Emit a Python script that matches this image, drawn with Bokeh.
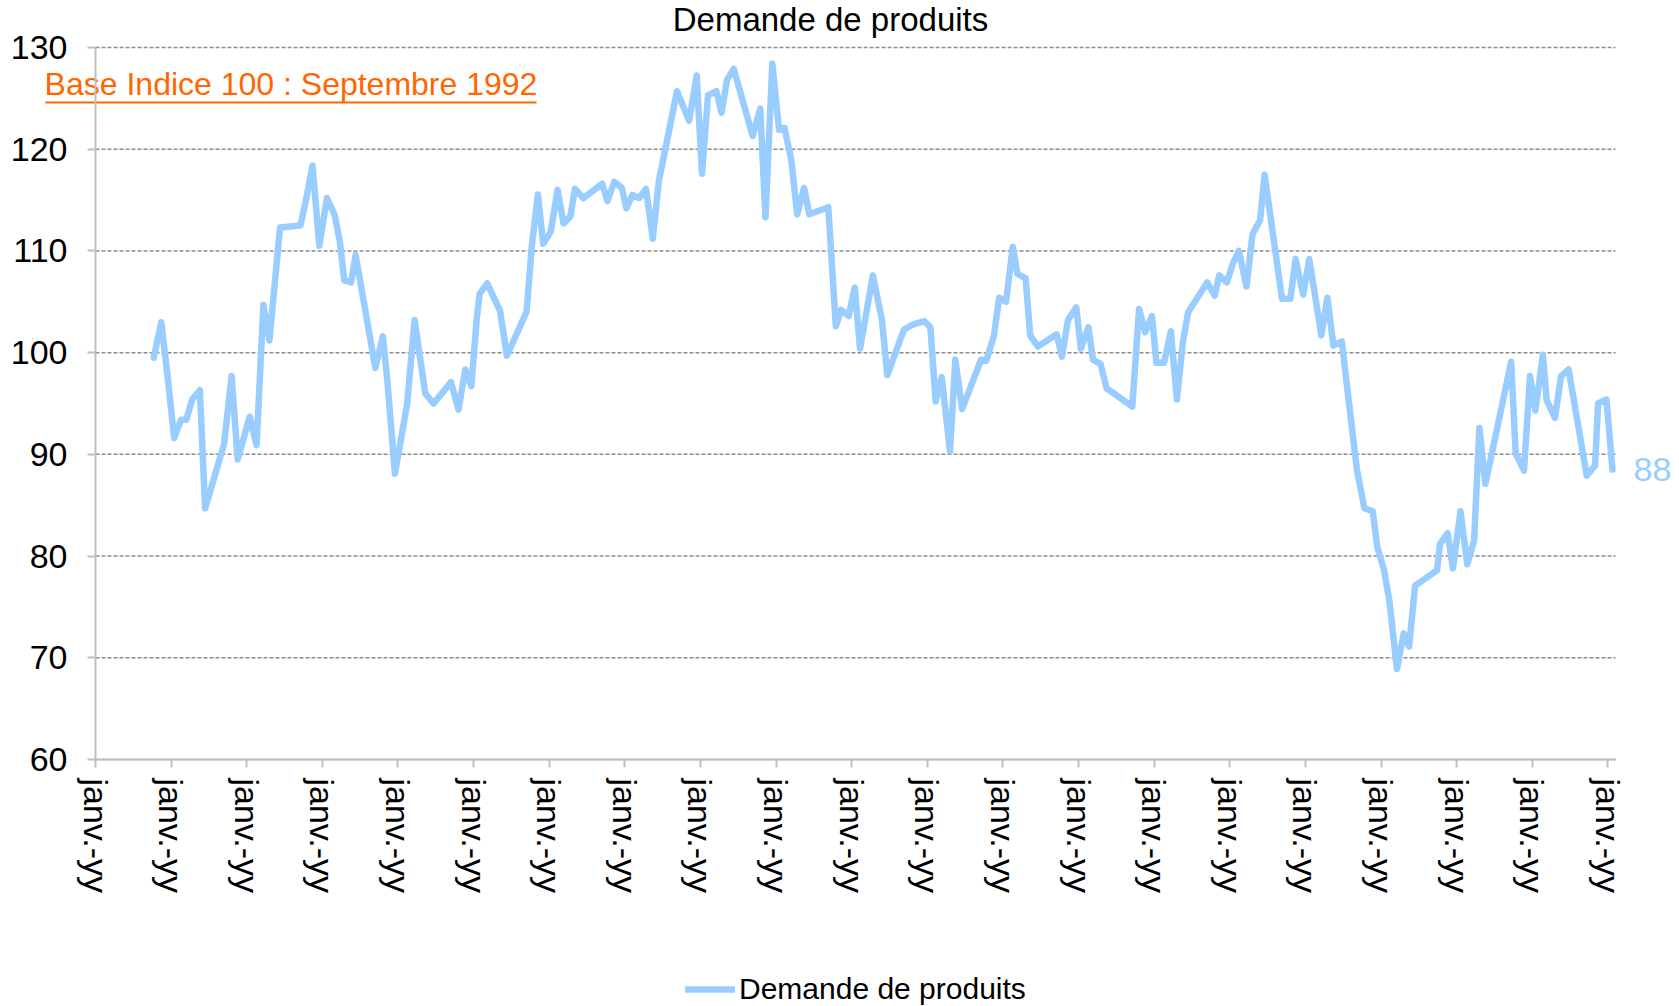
import math
from bokeh.plotting import figure
from bokeh.models import (Range1d, FixedTicker, ColumnDataSource, LinearAxis, Label,
                          Legend, LegendItem)
from bokeh.embed import file_html
from bokeh.resources import INLINE

# ---------------- data ----------------
title_text = "Demande de produits"
series_name = "Demande de produits"
note_text = "Base Indice 100 : Septembre 1992"
last_value_label = "88"

tick_years = [1992, 1993, 1994, 1995, 1996, 1997, 1998, 1999, 2000, 2001, 2002,
              2003, 2004, 2005, 2006, 2007, 2008, 2009, 2010, 2011, 2012]
tick_labels = ["janv.-yy"] * len(tick_years)
y_ticks = [60, 70, 80, 90, 100, 110, 120, 130]

dates = [
    1992.77, 1992.87, 1992.96, 1993.04, 1993.13, 1993.20, 1993.28, 1993.38, 1993.45,
    1993.70, 1993.80, 1993.88, 1994.04, 1994.13, 1994.22, 1994.30, 1994.44, 1994.71,
    1994.78, 1994.87, 1994.96, 1995.06, 1995.16, 1995.23, 1995.29, 1995.38, 1995.44,
    1995.70, 1995.80, 1995.86, 1995.96, 1996.12, 1996.22, 1996.36, 1996.47, 1996.70,
    1996.80, 1996.89, 1996.97, 1997.04, 1997.08, 1997.18, 1997.35, 1997.44, 1997.70,
    1997.77, 1997.85, 1997.92, 1998.02, 1998.11, 1998.19, 1998.28, 1998.34, 1998.45,
    1998.70, 1998.77, 1998.86, 1998.96, 1999.02, 1999.10, 1999.19, 1999.28, 1999.37,
    1999.45, 1999.69, 1999.85, 1999.95, 2000.02, 2000.10, 2000.21, 2000.28, 2000.35,
    2000.44, 2000.69, 2000.79, 2000.86, 2000.95, 2001.04, 2001.11, 2001.20, 2001.28,
    2001.37, 2001.44, 2001.69, 2001.79, 2001.86, 2001.96, 2002.04, 2002.11, 2002.28,
    2002.40, 2002.47, 2002.69, 2002.79, 2002.96, 2003.04, 2003.11, 2003.19, 2003.30,
    2003.37, 2003.46, 2003.71, 2003.78, 2003.88, 2003.95, 2004.04, 2004.13, 2004.19,
    2004.30, 2004.36, 2004.46, 2004.71, 2004.78, 2004.86, 2004.97, 2005.03, 2005.13,
    2005.19, 2005.29, 2005.37, 2005.71, 2005.80, 2005.88, 2005.97, 2006.03, 2006.13,
    2006.22, 2006.30, 2006.38, 2006.45, 2006.70, 2006.80, 2006.86, 2006.96, 2007.04,
    2007.12, 2007.22, 2007.30, 2007.40, 2007.46, 2007.69, 2007.80, 2007.87, 2007.97,
    2008.05, 2008.21, 2008.29, 2008.37, 2008.48, 2008.68, 2008.78, 2008.89, 2008.95,
    2009.04, 2009.11, 2009.21, 2009.30, 2009.37, 2009.45, 2009.74, 2009.78, 2009.88,
    2009.95, 2010.05, 2010.14, 2010.23, 2010.30, 2010.38, 2010.72, 2010.78, 2010.89,
    2010.97, 2011.04, 2011.14, 2011.19, 2011.30, 2011.38, 2011.48, 2011.72, 2011.83,
    2011.87, 2011.98, 2012.06,
]
values = [
    99.5, 103.0, 97.2, 91.6, 93.4, 93.4, 95.4, 96.3, 84.7,
    91.0, 97.7, 89.5, 93.7, 90.9, 104.7, 101.2, 112.3, 112.5,
    114.9, 118.4, 110.5, 115.2, 113.6, 111.0, 107.1, 106.9, 109.6,
    98.5, 101.6, 97.2, 88.1, 94.9, 103.2, 96.0, 95.0, 97.1,
    94.4, 98.35, 96.7, 103.2, 105.8, 106.8, 104.1, 99.7, 104.0,
    110.5, 115.55, 110.7, 111.9, 116.0, 112.7, 113.4, 116.1, 115.2,
    116.6, 114.9, 116.8, 116.2, 114.2, 115.5, 115.2, 116.1, 111.2,
    116.9, 125.7, 122.8, 127.25, 117.6, 125.3, 125.7, 123.6, 126.8,
    127.9, 121.3, 124.0, 113.3, 128.4, 121.9, 122.1, 119.0, 113.6,
    116.2, 113.6, 114.3, 102.6, 104.2, 103.6, 106.4, 100.4, 107.6,
    103.2, 97.8, 102.25, 102.7, 103.1, 102.5, 95.2, 97.6, 90.3,
    99.3, 94.45, 99.3, 99.2, 101.65, 105.4, 105.0, 110.4, 107.75,
    107.3, 101.7, 100.6, 101.8, 99.6, 103.2, 104.45, 100.4, 102.5,
    99.3, 98.9, 96.5, 94.7, 104.3, 102.0, 103.6, 99.0, 99.0,
    102.1, 95.4, 101.1, 104.0, 106.9, 105.6, 107.6, 106.9, 108.75,
    110.0, 106.5, 111.65, 113.0, 117.5, 105.3, 105.3, 109.2, 105.7,
    109.2, 101.7, 105.4, 100.7, 101.1, 88.5, 84.7, 84.4, 80.9,
    78.6, 75.6, 68.9, 72.4, 71.1, 77.1, 78.6, 81.2, 82.25,
    78.8, 84.4, 79.2, 81.5, 92.6, 87.1, 99.1, 90.1, 88.4,
    97.7, 94.3, 99.8, 95.3, 93.6, 97.7, 98.35, 87.9, 88.9,
    95.0, 95.4, 88.5,
]

# ---------------- layout ----------------
W, H = 1679, 1006
X0, X1 = 1992.0, 2012.1          # extent of the drawn plot area (axis start / end)
Y0, Y1 = 60, 130
PX_LEFT, PX_RIGHT = 95, 1615     # pixel position of the plot area
PX_TOP, PX_BOTTOM = 47, 759
kx = (PX_RIGHT - PX_LEFT) / (X1 - X0)
ky = (PX_BOTTOM - PX_TOP) / (Y1 - Y0)
x_range = Range1d(X0 - PX_LEFT / kx, X1 + (W - PX_RIGHT) / kx)
y_range = Range1d(Y0 - (H - PX_BOTTOM) / ky, Y1 + PX_TOP / ky)


def xpx(px):
    return x_range.start + px / kx


def ypx(py):
    return y_range.end - py / ky


FONT = "Liberation Sans"
LINE_COLOR = "#99CCFF"
NOTE_COLOR = "#FF6600"
AXIS_COLOR = "#BFBFBF"
GRID_COLOR = "#8C8C8C"
TICK_FS = "34px"

p = figure(width=W, height=H, output_backend="svg", toolbar_location=None,
           x_range=x_range, y_range=y_range,
           min_border_left=0, min_border_right=0, min_border_top=0, min_border_bottom=0)
p.outline_line_color = None
p.background_fill_color = "white"
p.border_fill_color = "white"
p.xgrid.visible = False
p.ygrid.visible = False

# horizontal dashed gridlines at the y ticks, across the plot area only
p.segment(x0=[X0] * len(y_ticks), x1=[X1] * len(y_ticks), y0=y_ticks, y1=y_ticks,
          line_color=GRID_COLOR, line_dash="4 2", line_width=1.5)

src = ColumnDataSource(dict(x=dates, y=values))
r = p.line("x", "y", source=src, line_color=LINE_COLOR, line_width=6.5,
           line_join="round", line_cap="round")

xax = p.xaxis[0]
yax = p.yaxis[0]
xax.fixed_location = Y0
xax.bounds = (X0, X1)
yax.fixed_location = X0
yax.bounds = (Y0, Y1)

xax.ticker = FixedTicker(ticks=tick_years)
xax.major_label_overrides = {yr: lab for yr, lab in zip(tick_years, tick_labels)}
xax.major_label_orientation = -math.pi / 2
xax.major_label_standoff = 11
yax.ticker = FixedTicker(ticks=y_ticks)
yax.major_label_standoff = 20
for ax in (xax, yax):
    ax.major_label_text_font = FONT
    ax.major_label_text_font_size = TICK_FS
    ax.major_label_text_color = "black"
    ax.axis_line_color = AXIS_COLOR
    ax.axis_line_width = 2
    ax.major_tick_line_color = AXIS_COLOR
    ax.major_tick_line_width = 2
    ax.major_tick_out = 8
    ax.major_tick_in = 0
    ax.minor_tick_line_color = None

# title
p.add_layout(Label(x=xpx(830), y=ypx(18.5), text=title_text, text_font=FONT,
                   text_font_size="33px", text_align="center", text_baseline="middle",
                   text_color="black"))

# last value label
p.add_layout(Label(x=xpx(1633), y=values[-1], text=last_value_label, text_font=FONT,
                   text_font_size=TICK_FS, text_align="left", text_baseline="middle",
                   text_color=LINE_COLOR))

# underlined note: an axis pinned inside the plot, its line is the underline
note_start, note_end, note_y = xpx(45), xpx(536), ypx(101.7)
note_mid = (note_start + note_end) / 2
note_axis = LinearAxis(fixed_location=note_y, bounds=(note_start, note_end),
                       ticker=FixedTicker(ticks=[note_mid]),
                       major_label_overrides={note_mid: note_text},
                       axis_line_color=NOTE_COLOR, axis_line_width=2,
                       major_tick_line_color=None, minor_tick_line_color=None,
                       major_tick_out=0, major_tick_in=0, major_label_standoff=0,
                       major_label_text_font=FONT, major_label_text_font_size="32px",
                       major_label_text_color=NOTE_COLOR)
p.add_layout(note_axis, "above")

# legend at the bottom
legend = Legend(items=[LegendItem(label=series_name, renderers=[r])],
                location=(685, 0), orientation="horizontal",
                label_text_font=FONT, label_text_font_size="30px",
                label_text_color="black",
                label_standoff=4, glyph_width=50, glyph_height=30,
                padding=0, margin=0, spacing=0,
                border_line_color=None, background_fill_alpha=0)
p.add_layout(legend, "center")

open("out.html", "w").write(file_html(p, INLINE))
